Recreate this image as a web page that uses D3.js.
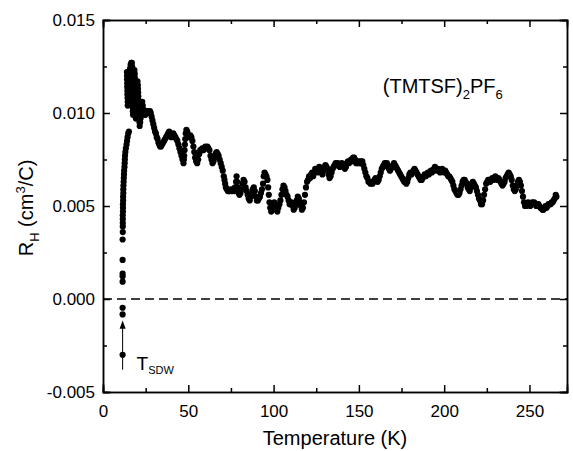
<!DOCTYPE html>
<html>
<head>
<meta charset="utf-8">
<script src="https://cdn.jsdelivr.net/npm/d3@7"></script>
<style>
  body { margin: 0; background: #fff; }
  svg { display: block; font-family: "Liberation Sans", Arial, sans-serif; }
  .axis path, .axis line { stroke: #000; stroke-width: 1.5; }
  .axis text { font-size: 17px; fill: #000; }
</style>
</head>
<body>
<svg width="573" height="451"></svg>
<script>
// Hall coefficient vs temperature: [T (K), R_H (cm^3/C)]
const points = [
  [11.5,-0.0030],[11.5,-0.00083],[11.5,-0.00047],[11.5,0.00093],[11.5,0.00122],[11.5,0.00136],
  [11.5,0.0021],[11.5,0.0032],[11.6,0.0036],[11.6,0.0039],[11.6,0.0041],[11.6,0.0043],[11.6,0.0045],
  [11.7,0.0047],[11.7,0.0049],[11.7,0.0051],[11.8,0.0053],[11.8,0.0055],[11.9,0.0057],[11.9,0.0059],
  [12.0,0.0061],[12.1,0.0063],[12.2,0.0065],[12.3,0.0067],[12.4,0.0069],[12.6,0.0071],[12.7,0.0073],
  [12.8,0.0075],[12.9,0.0077],[13.1,0.0079],[13.4,0.0081],[13.8,0.0083],[14.1,0.0085],[14.4,0.0087],
  [14.8,0.0089],[15.2,0.0090],
  // dense cluster near the maximum
  [14.0,0.0122],[14.1,0.0120],[14.1,0.0118],[14.2,0.0116],[14.2,0.0114],[14.3,0.0112],[14.3,0.0110],
  [14.4,0.0108],[14.5,0.0106],[14.5,0.0104],[14.7,0.0106],[14.8,0.0108],[14.9,0.0110],[15.0,0.0112],
  [15.1,0.0114],[15.2,0.0116],[15.3,0.0118],[15.5,0.0120],[15.7,0.0122],[15.9,0.0124],[16.2,0.0126],
  [16.6,0.0127],[16.9,0.0127],[17.1,0.0125],[17.1,0.0123],[17.0,0.0121],[17.0,0.0119],[17.0,0.0117],
  [17.1,0.0115],[17.1,0.0113],[17.2,0.0111],[17.2,0.0109],[17.3,0.0107],[17.3,0.0105],[17.4,0.0103],
  [17.5,0.0101],[17.6,0.0099],[17.8,0.0101],[17.8,0.0103],[17.9,0.0105],[17.9,0.0107],[18.0,0.0109],
  [18.0,0.0111],[18.1,0.0113],[18.1,0.0115],[18.2,0.0117],[18.2,0.0119],[18.3,0.0121],[18.4,0.0123],
  [18.6,0.0121],[18.6,0.0119],[18.7,0.0117],[18.7,0.0115],[18.8,0.0113],[18.8,0.0111],[18.9,0.0109],
  [18.9,0.0107],[19.0,0.0105],[19.0,0.0103],[19.1,0.0101],[19.2,0.0099],[19.3,0.0097],[19.5,0.0099],
  [19.6,0.0101],[19.7,0.0103],[19.7,0.0105],[19.8,0.0107],[19.9,0.0109],[19.9,0.0111],[20.0,0.0113],
  [20.1,0.0115],[20.2,0.0117],[20.4,0.0115],[20.5,0.0113],[20.6,0.0111],[20.7,0.0109],[20.8,0.0107],
  [20.9,0.0105],[21.0,0.0103],[21.1,0.0101],[21.2,0.0099],[21.3,0.0097],[21.4,0.0095],[21.5,0.0093],
  [21.8,0.0095],[22.0,0.0097],[22.2,0.0099],[22.4,0.0101],[22.6,0.0103],[22.8,0.0105],[23.0,0.0106],
  [23.3,0.0104],[23.6,0.0102],[24.0,0.0100],[24.4,0.0099],[24.8,0.0099],[25.2,0.0100],[25.6,0.0101],
  [26.0,0.0101],[26.5,0.0101],[27.0,0.0100],[27.5,0.0101],[28.0,0.0100],[28.5,0.0098],[29.0,0.0096],
  [29.5,0.0094],[30.0,0.0092],[30.5,0.0090],[31.0,0.0089],[31.5,0.0087],[32.0,0.0086],[32.5,0.0084],
  [33.0,0.0083],[33.5,0.0082],[34.0,0.0082],[34.6,0.0083],[35.2,0.0084],[35.8,0.0085],[36.4,0.0086],
  [37.0,0.0087],[37.6,0.0088],[38.2,0.0089],[38.8,0.0090],[39.4,0.0089],[40.0,0.0087],[40.6,0.0088],
  [41.2,0.0089],[41.8,0.0088],[42.4,0.0087],[43.0,0.0086],[43.6,0.0085],[44.2,0.0083],[44.8,0.0081],
  [45.4,0.0079],[46.0,0.0077],[46.6,0.0075],[47.2,0.0073],[47.4,0.0075],[47.6,0.0077],[47.8,0.0080],
  [48.0,0.0083],[48.2,0.0086],[48.5,0.0089],[48.9,0.0091],[49.4,0.0090],[50.0,0.0088],[50.6,0.0087],
  [51.2,0.0088],[51.8,0.0087],[52.4,0.0085],[53.0,0.0082],[53.5,0.0079],[54.0,0.0076],[54.6,0.0074],
  [55.2,0.0073],[55.8,0.0075],[56.4,0.0078],[57.0,0.0080],[57.6,0.0080],[58.2,0.0081],[58.8,0.0080],
  [59.4,0.0081],[60.0,0.0082],[60.6,0.0081],[61.2,0.0082],[61.8,0.0081],[62.4,0.0080],[63.0,0.0077],
  [63.6,0.0075],[64.2,0.0073],[64.8,0.0074],[65.4,0.0076],[66.0,0.0078],[66.6,0.0079],[67.2,0.0078],
  [67.8,0.0077],[68.4,0.0075],[69.0,0.0073],[69.6,0.0071],[70.2,0.0069],[70.8,0.0066],[71.2,0.0064],
  [71.6,0.0062],[72.0,0.0060],[72.6,0.0059],[73.2,0.0058],[73.8,0.0058],[74.4,0.0058],[75.0,0.0059],
  [75.6,0.0058],[76.2,0.0059],[76.8,0.0058],[77.4,0.0060],[78.0,0.0063],[78.3,0.0066],[78.6,0.0063],
  [79.0,0.0060],[79.5,0.0057],[80.0,0.0056],[80.6,0.0057],[81.2,0.0059],[81.8,0.0062],[82.4,0.0064],
  [83.0,0.0063],[83.6,0.0060],[84.2,0.0058],[84.8,0.0056],[85.4,0.0054],[86.0,0.0053],[86.6,0.0055],
  [87.2,0.0057],[87.8,0.0059],[88.4,0.0060],[89.0,0.0058],[89.6,0.0055],[90.2,0.0053],[90.8,0.0053],
  [91.4,0.0054],[92.0,0.0055],[92.6,0.0057],[93.2,0.0059],[93.8,0.0062],[94.2,0.0066],[94.7,0.0068],
  [95.2,0.0067],[95.8,0.0066],[96.4,0.0064],[96.8,0.0060],[97.2,0.0056],[97.6,0.0052],[98.0,0.0049],
  [98.6,0.0047],[99.2,0.0048],[99.8,0.0050],[100.4,0.0052],[101.0,0.0050],[101.6,0.0048],[102.2,0.0047],
  [102.8,0.0049],[103.4,0.0051],[104.0,0.0053],[104.6,0.0056],[105.2,0.0059],[105.8,0.0061],[106.4,0.0060],
  [107.0,0.0058],[107.6,0.0056],[108.2,0.0055],[108.8,0.0053],[109.4,0.0051],[110.0,0.0051],[110.6,0.0052],
  [111.2,0.0050],[111.8,0.0048],[112.4,0.0049],[113.0,0.0051],[113.6,0.0053],[114.2,0.0055],[114.8,0.0054],
  [115.4,0.0052],[116.0,0.0050],[116.6,0.0048],[117.2,0.0049],[117.8,0.0052],[118.4,0.0056],[119.0,0.0060],
  [119.6,0.0063],[120.2,0.0064],[120.8,0.0066],[121.4,0.0065],[122.0,0.0067],[122.6,0.0068],[123.2,0.0066],
  [123.8,0.0068],[124.4,0.0070],[125.0,0.0069],[125.6,0.0068],[126.2,0.0070],[126.8,0.0071],[127.4,0.0070],
  [128.0,0.0068],[128.6,0.0067],[129.2,0.0069],[129.8,0.0071],[130.4,0.0072],[131.0,0.0071],[131.6,0.0070],
  [132.2,0.0067],[132.8,0.0065],[133.4,0.0066],[134.0,0.0068],[134.6,0.0070],[135.2,0.0071],[135.8,0.0072],
  [136.4,0.0073],[137.0,0.0072],[137.6,0.0073],[138.2,0.0072],[138.8,0.0071],[139.4,0.0072],[140.0,0.0073],
  [140.6,0.0072],[141.2,0.0071],[141.8,0.0070],[142.4,0.0071],[143.0,0.0073],[143.6,0.0074],[144.2,0.0073],
  [144.8,0.0074],[145.4,0.0075],[146.0,0.0074],[146.6,0.0076],[147.2,0.0076],[147.8,0.0075],[148.4,0.0073],
  [149.0,0.0074],[149.6,0.0073],[150.2,0.0074],[150.8,0.0073],[151.4,0.0074],[152.0,0.0074],[152.6,0.0072],
  [153.2,0.0070],[153.8,0.0068],[154.4,0.0066],[155.0,0.0065],[155.6,0.0063],[156.2,0.0063],[156.8,0.0062],
  [157.4,0.0063],[158.0,0.0062],[158.6,0.0063],[159.2,0.0064],[159.8,0.0065],[160.4,0.0064],[161.0,0.0063],
  [161.6,0.0064],[162.2,0.0066],[162.8,0.0068],[163.4,0.0070],[164.0,0.0071],[164.6,0.0072],[165.2,0.0073],
  [165.8,0.0072],[166.4,0.0073],[167.0,0.0071],[167.6,0.0070],[168.2,0.0069],[168.8,0.0070],[169.4,0.0071],
  [170.0,0.0072],[170.6,0.0073],[171.2,0.0072],[171.8,0.0071],[172.4,0.0070],[173.0,0.0069],[173.6,0.0068],
  [174.2,0.0067],[174.8,0.0066],[175.4,0.0065],[176.0,0.0064],[176.6,0.0063],[177.2,0.0063],[177.8,0.0062],
  [178.4,0.0063],[179.0,0.0065],[179.6,0.0067],[180.2,0.0068],[180.8,0.0067],[181.4,0.0068],[182.0,0.0069],
  [182.6,0.0070],[183.2,0.0069],[183.8,0.0068],[184.4,0.0067],[185.0,0.0066],[185.6,0.0065],[186.2,0.0064],
  [186.8,0.0064],[187.4,0.0065],[188.0,0.0066],[188.6,0.0067],[189.2,0.0066],[189.8,0.0067],[190.4,0.0068],
  [191.0,0.0067],[191.6,0.0068],[192.2,0.0069],[192.8,0.0068],[193.4,0.0069],[194.0,0.0070],[194.6,0.0071],
  [195.2,0.0070],[195.8,0.0069],[196.4,0.0070],[197.0,0.0069],[197.6,0.0068],[198.2,0.0069],[198.8,0.0070],
  [199.4,0.0069],[200.0,0.0068],[200.6,0.0069],[201.2,0.0068],[201.8,0.0067],[202.4,0.0066],[203.0,0.0066],
  [203.6,0.0065],[204.2,0.0064],[204.8,0.0063],[205.4,0.0061],[206.0,0.0059],[206.6,0.0058],[207.2,0.0057],
  [207.8,0.0056],[208.4,0.0056],[209.0,0.0057],[209.6,0.0059],[210.2,0.0061],[210.8,0.0063],[211.4,0.0064],
  [212.0,0.0064],[212.6,0.0063],[213.2,0.0062],[213.8,0.0060],[214.4,0.0059],[215.0,0.0058],[215.6,0.0060],
  [216.2,0.0062],[216.8,0.0063],[217.4,0.0062],[218.0,0.0061],[218.6,0.0060],[219.2,0.0058],[219.8,0.0056],
  [220.4,0.0054],[221.0,0.0053],[221.6,0.0051],[222.2,0.0051],[222.8,0.0053],[223.4,0.0056],[224.0,0.0059],
  [224.6,0.0062],[225.2,0.0063],[225.8,0.0064],[226.4,0.0064],[227.0,0.0063],[227.6,0.0064],[228.2,0.0065],
  [228.8,0.0064],[229.4,0.0065],[230.0,0.0066],[230.6,0.0065],[231.2,0.0064],[231.8,0.0065],[232.4,0.0064],
  [233.0,0.0063],[233.6,0.0062],[234.2,0.0061],[234.8,0.0062],[235.4,0.0063],[236.0,0.0065],[236.6,0.0066],
  [237.2,0.0067],[237.8,0.0068],[238.4,0.0067],[239.0,0.0066],[239.6,0.0064],[240.2,0.0061],[240.8,0.0059],
  [241.4,0.0058],[242.0,0.0059],[242.6,0.0061],[243.2,0.0063],[243.8,0.0064],[244.4,0.0063],[245.0,0.0061],
  [245.6,0.0058],[246.2,0.0055],[246.8,0.0052],[247.4,0.0050],[248.0,0.0050],[248.6,0.0051],[249.2,0.0052],
  [249.8,0.0051],[250.4,0.0050],[251.0,0.0051],[251.6,0.0052],[252.2,0.0051],[252.8,0.0052],[253.4,0.0051],
  [254.0,0.0050],[254.6,0.0050],[255.2,0.0051],[255.8,0.0050],[256.4,0.0049],[257.0,0.0049],[257.6,0.0048],
  [258.2,0.0048],[258.8,0.0049],[259.4,0.0050],[260.0,0.0049],[260.6,0.0050],[261.2,0.0051],[261.8,0.0051],
  [262.4,0.0051],[263.0,0.0052],[263.6,0.0052],[264.2,0.0053],[264.8,0.0054],[265.4,0.0056],[265.8,0.0055]
];

const xMajor = [0, 50, 100, 150, 200, 250];
const xMinor = [25, 75, 125, 175, 225];
const yMajor = [-0.005, 0.000, 0.005, 0.010, 0.015];
const yMinor = [-0.0025, 0.0025, 0.0075, 0.0125];
const tSDW = 11.5;

const svg = d3.select("svg"),
      margin = { top: 20, right: 6, bottom: 59, left: 103 },
      width = +svg.attr("width") - margin.left - margin.right,
      height = +svg.attr("height") - margin.top - margin.bottom;

const chart = svg.append("g")
    .attr("transform", `translate(${margin.left},${margin.top})`);

const x = d3.scaleLinear().domain([0, 272]).range([0, width]);
const y = d3.scaleLinear().domain([-0.005, 0.015]).range([height, 0]);

// zero line
chart.append("line")
    .attr("x1", 0).attr("x2", width)
    .attr("y1", y(0)).attr("y2", y(0))
    .attr("stroke", "#000")
    .attr("stroke-width", 1.5)
    .attr("stroke-dasharray", "9,5");

// data
chart.selectAll("circle.pt")
  .data(points)
  .enter()
  .append("circle")
  .attr("class", "pt")
  .attr("cx", d => x(d[0]))
  .attr("cy", d => y(d[1]))
  .attr("r", 3.1)
  .attr("fill", "#000");

// axes, ticks inward on all four sides
const fmtY = d => d.toFixed(3);

chart.append("g").attr("class", "axis")
    .attr("transform", `translate(0,${height})`)
    .call(d3.axisBottom(x).tickValues(xMajor).tickSize(-7).tickPadding(13).tickFormat(d3.format("d")));
chart.append("g").attr("class", "axis")
    .attr("transform", `translate(0,${height})`)
    .call(d3.axisBottom(x).tickValues(xMinor).tickSize(-4).tickFormat(""));
chart.append("g").attr("class", "axis")
    .call(d3.axisTop(x).tickValues(xMajor).tickSize(-7).tickFormat(""));
chart.append("g").attr("class", "axis")
    .call(d3.axisTop(x).tickValues(xMinor).tickSize(-4).tickFormat(""));

chart.append("g").attr("class", "axis")
    .call(d3.axisLeft(y).tickValues(yMajor).tickSize(-7).tickPadding(8).tickFormat(fmtY));
chart.append("g").attr("class", "axis")
    .call(d3.axisLeft(y).tickValues(yMinor).tickSize(-4).tickFormat(""));
chart.append("g").attr("class", "axis")
    .attr("transform", `translate(${width},0)`)
    .call(d3.axisRight(y).tickValues(yMajor).tickSize(-7).tickFormat(""));
chart.append("g").attr("class", "axis")
    .attr("transform", `translate(${width},0)`)
    .call(d3.axisRight(y).tickValues(yMinor).tickSize(-4).tickFormat(""));

chart.selectAll(".axis .domain").attr("stroke-linecap", "square");

// T_SDW arrow
const ax = x(tSDW);
chart.append("line")
    .attr("x1", ax).attr("x2", ax)
    .attr("y1", y(-0.0038)).attr("y2", y(-0.0015))
    .attr("stroke", "#000").attr("stroke-width", 1);
chart.append("path")
    .attr("d", `M${ax},${y(-0.00115)} L${ax - 3},${y(-0.0016)} L${ax + 3},${y(-0.0016)} Z`)
    .attr("fill", "#000");

const tLabel = chart.append("text")
    .attr("x", ax + 14)
    .attr("y", y(-0.0038))
    .attr("font-size", 19);
tLabel.append("tspan").text("T");
tLabel.append("tspan").attr("font-size", 11).attr("dy", 4).text("SDW");

// compound label
const comp = chart.append("text")
    .attr("x", x(164))
    .attr("y", y(0.0111))
    .attr("font-size", 20);
comp.append("tspan").text("(TMTSF)");
comp.append("tspan").attr("font-size", 13).attr("dy", 6).text("2");
comp.append("tspan").attr("dy", -6).text("PF");
comp.append("tspan").attr("font-size", 13).attr("dy", 6).text("6");

// axis titles
svg.append("text")
    .attr("x", margin.left + width / 2)
    .attr("y", 445)
    .attr("text-anchor", "middle")
    .attr("font-size", 20)
    .text("Temperature (K)");

const yt = svg.append("text")
    .attr("transform", `translate(33,${margin.top + height / 2 + 2}) rotate(-90)`)
    .attr("text-anchor", "middle")
    .attr("font-size", 20);
yt.append("tspan").text("R");
yt.append("tspan").attr("font-size", 13).attr("dy", 6).text("H");
yt.append("tspan").attr("dy", -6).text(" (cm");
yt.append("tspan").attr("font-size", 13).attr("dy", -8).text("3");
yt.append("tspan").attr("dy", 8).text("/C)");
</script>
</body>
</html>
